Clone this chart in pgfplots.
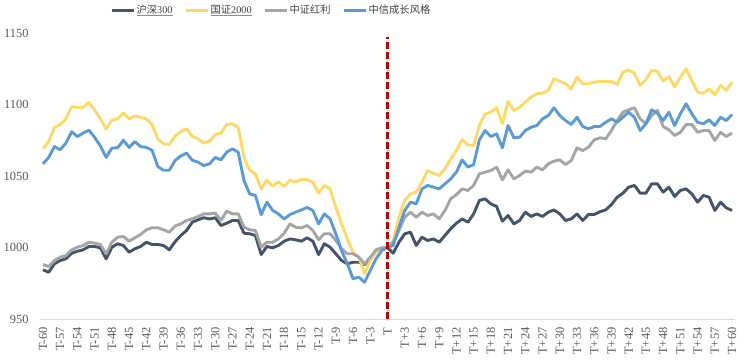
\documentclass[border=0pt]{standalone}
\usepackage{pgfplots}
\pgfplotsset{compat=1.18}
\usepackage{pgfplotstable}
\usepackage{fontspec}
\setmainfont{Liberation Serif}
\newfontfamily\cjk{Noto Sans CJK SC}
\definecolor{hs}{HTML}{44546A}
\definecolor{gz}{HTML}{FFD966}
\definecolor{hl}{HTML}{A5A5A5}
\definecolor{cz}{HTML}{5B9BD5}
\definecolor{red1}{HTML}{C00000}
\definecolor{ulcol}{HTML}{36AFC8}
\definecolor{tick}{HTML}{595959}
\definecolor{axl}{HTML}{D9D9D9}
\newcommand{\ulc}[1]{\setbox0\hbox{#1}\rlap{\textcolor{ulcol}{\rule[-2.5bp]{\wd0}{1.2bp}}}\box0}
\pgfplotstableread{
x hs gz hl cz
-60 984.4 1069 988.1 1058.5
-59 982.7 1074 986.7 1063
-58 988.6 1084 990.9 1070.6
-57 990.9 1086 993.2 1068.3
-56 992.1 1090 994.4 1073
-55 996 1098.5 998.4 1081
-54 997.4 1098 1000.2 1077.6
-53 998.4 1098 1001.4 1080
-52 1000.7 1101.5 1003.7 1082
-51 1000.7 1096 1003 1077
-50 999.8 1090 1002.1 1071
-49 992 1083 995.6 1063
-48 1000.2 1089 1003.7 1069.5
-47 1002.6 1090 1007.2 1069.7
-46 1001.4 1094 1007.7 1075
-45 996.7 1090 1004.4 1070
-44 999.1 1092 1006.8 1074
-43 1000.7 1091 1009.1 1070.6
-42 1003.7 1090 1012.4 1070
-41 1002.1 1086 1013.8 1068
-40 1002.1 1076 1013.8 1056.6
-39 1001.4 1072.5 1012.4 1054
-38 998.4 1072 1010.7 1054
-37 1004 1078 1015 1060.8
-36 1008.4 1081 1016.5 1064
-35 1011.9 1083 1018.9 1066
-34 1017.7 1077.6 1020 1061
-33 1019.4 1076 1021.7 1059.7
-32 1020.8 1073 1023.5 1057.3
-31 1020 1074.3 1023.5 1058.5
-30 1020.8 1079 1024 1063
-29 1015.4 1080 1019 1061.3
-28 1017 1086 1025.4 1066.7
-27 1018.9 1086.5 1023.5 1069
-26 1018.9 1084 1023.5 1066.7
-25 1010 1063 1014.2 1047
-24 1009.6 1054 1012.4 1037.5
-23 1008.4 1051.5 1011.9 1036.4
-22 995.1 1041 1000.2 1023
-21 1000.7 1047 1003.7 1031.7
-20 999.8 1043 1003.7 1026
-19 1001.4 1046 1006 1023.5
-18 1004.4 1042.7 1010 1020
-17 1006 1047 1016.5 1023
-16 1005.4 1045.7 1014.2 1024.7
-15 1004.4 1047.5 1013.7 1026.3
-14 1006.8 1047.5 1015.4 1028
-13 1004.4 1045.7 1011.9 1026
-12 995 1038 1005.5 1016.5
-11 1002.6 1043.4 1009.6 1023.5
-10 1000.2 1041 1009.6 1020
-9 995.6 1028.2 1004.9 1009.6
-8 990.9 1016.5 999.1 997.9
-7 988.6 1006 995.6 988.6
-6 989.7 996.7 995.6 978.1
-5 989.7 993.2 993.2 979.3
-4 988.1 981.6 988.6 975.7
-3 992.1 990.9 993.2 983.9
-2 997.9 996.7 998.4 992.1
-1 999.1 999.1 999.8 997.9
0 1000 1000 1000 1000
1 996 1004.9 1003.7 1001.4
2 1003.7 1021.2 1011.9 1014.2
3 1009.6 1032.9 1021.2 1025.9
4 1010.7 1037.5 1024.7 1031.7
5 1001.4 1038.7 1021.2 1030.5
6 1007.2 1045.7 1024.7 1041
7 1004.9 1053.8 1022.4 1043.4
8 1006 1052 1023.5 1042.2
9 1003.7 1050.3 1020 1041
10 1008.4 1055 1025.9 1044.5
11 1013.1 1062 1034 1048
12 1017 1067.8 1037 1052.7
13 1020 1075.3 1041 1061.3
14 1017.7 1071.8 1039.9 1056.2
15 1023.5 1071.3 1043.4 1058
16 1032.9 1085.3 1051.5 1075.3
17 1034 1093.5 1052.7 1081.8
18 1030.5 1094.6 1053.8 1077.6
19 1028.7 1097.7 1056.2 1079.5
20 1018.4 1086.5 1047.3 1069.7
21 1022.4 1102.3 1054.3 1085.3
22 1016.5 1095.8 1048 1076.7
23 1018.9 1098.1 1050.3 1077.1
24 1024.7 1101.6 1053.4 1081.8
25 1021.7 1105.1 1052.7 1084.1
26 1023.5 1107.5 1056.2 1085.3
27 1021.7 1107.9 1054.3 1090
28 1024.7 1109.8 1058.5 1092.3
29 1026.3 1118 1060.4 1097.7
30 1023.5 1116.3 1061.3 1092.3
31 1018.9 1114.5 1058 1088.8
32 1020 1111 1060.8 1086
33 1023.5 1119.1 1069.7 1091.1
34 1018.9 1114.5 1067.8 1084.6
35 1023.1 1114.5 1070.2 1083
36 1023.1 1115.6 1075.3 1084.6
37 1025 1116.1 1076.7 1084.6
38 1026.3 1116.1 1076 1087.6
39 1030 1116.1 1081.8 1090
40 1035.2 1114 1088.8 1087.6
41 1038 1122.6 1094.6 1091.1
42 1042.2 1124.2 1096.3 1094.6
43 1043.4 1121.9 1097.7 1091.1
44 1038 1113.3 1090 1081.8
45 1038 1117.3 1086.5 1086.5
46 1044.5 1123.8 1092.3 1096.3
47 1044.5 1123.3 1095.8 1093.9
48 1038.7 1116.3 1084.6 1088.8
49 1042.2 1119.6 1082.3 1094.6
50 1035.7 1112.1 1078.3 1085.3
51 1039.9 1119.1 1080.6 1093.5
52 1041 1125 1086 1100.5
53 1037.5 1116.8 1086 1093.5
54 1031.7 1108.6 1080.6 1087.6
55 1036.4 1107.9 1081.8 1086.5
56 1035.2 1111 1081.8 1089.3
57 1025.9 1106.8 1074.8 1085.3
58 1031.7 1113.3 1080.6 1091.1
59 1027.7 1109.8 1077.6 1088.8
60 1025.9 1115.6 1080 1093
}\data
\begin{document}
\begin{tikzpicture}[x=1bp,y=1bp]
\useasboundingbox (-40.1,-44) rectangle (709.9,319);
\begin{axis}[
  at={(0,0)}, anchor=south west,
  scale only axis, width=694.8bp, height=286bp,
  xmin=-60.5, xmax=60.5, ymin=950, ymax=1150,
  axis x line*=bottom, axis y line*=left,
  x axis line style={-, draw=axl, line width=1bp},
  y axis line style={draw=none},
  major tick length=0pt,
  xtick={-60,-57,...,60},
  xticklabels={T-60,T-57,T-54,T-51,T-48,T-45,T-42,T-39,T-36,T-33,T-30,T-27,T-24,T-21,T-18,T-15,T-12,T-9,T-6,T-3,T,T+3,T+6,T+9,T+12,T+15,T+18,T+21,T+24,T+27,T+30,T+33,T+36,T+39,T+42,T+45,T+48,T+51,T+54,T+57,T+60},
  xticklabel style={rotate=90, anchor=east, font=\fontsize{12.5}{14}\selectfont, text=tick},
  xticklabel shift=5bp,
  ytick={950,1000,1050,1100,1150},
  yticklabel style={font=\fontsize{12.5}{14}\selectfont, text=tick, /pgf/number format/1000 sep={}},
  yticklabel shift=8bp,
  /pgf/number format/assume math mode=true,
  legend columns=4,
  legend style={at={(0.1006,1.0804)}, anchor=west, draw=none, fill=none, inner sep=0pt,
    nodes={inner xsep=1.5bp, inner ysep=1bp, font=\fontsize{10.3}{12}\selectfont, text=black!75}},
  /tikz/every even column/.append style={column sep=10bp},
  legend image code/.code={\draw[#1, line width=3bp, line cap=butt] (0bp,0bp) -- (22bp,0bp);},
]
\addplot[color=hs, line width=2.9bp, line join=round] table[x=x,y=hs]{\data};
\addlegendentry{\ulc{{\cjk 沪深}300}}
\addplot[color=gz, line width=2.9bp, line join=round] table[x=x,y=gz]{\data};
\addlegendentry{\ulc{{\cjk 国证}2000}}
\addplot[color=hl, line width=2.9bp, line join=round] table[x=x,y=hl]{\data};
\addlegendentry{{\cjk 中证红利}}
\addplot[color=cz, line width=2.9bp, line join=round] table[x=x,y=cz]{\data};
\addlegendentry{{\cjk 中信成长风格}}
\addplot[color=red1, line width=3bp, dash pattern=on 7bp off 3bp, forget plot] coordinates {(0,950) (0,1147)};
\end{axis}
\end{tikzpicture}
\end{document}
